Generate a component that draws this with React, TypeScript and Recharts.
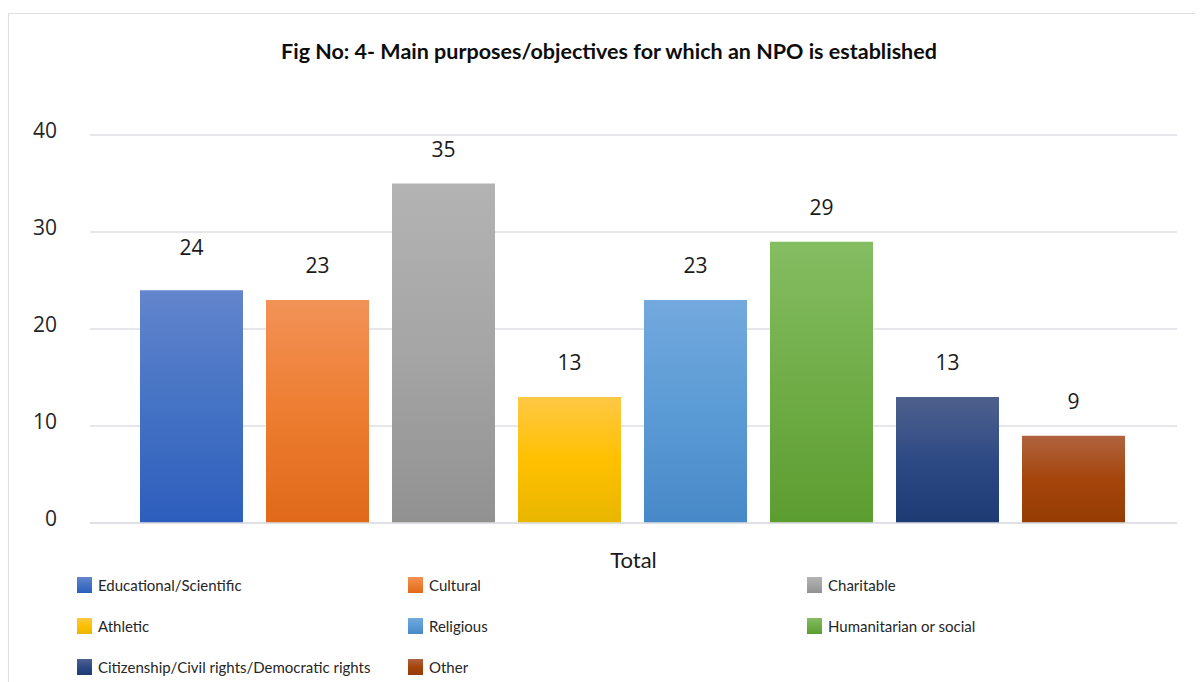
import { BarChart, Bar, XAxis, YAxis, CartesianGrid, LabelList } from 'recharts';

const categories = ['Total'];
const seriesNames = [
  'Educational/Scientific',
  'Cultural',
  'Charitable',
  'Athletic',
  'Religious',
  'Humanitarian or social',
  'Citizenship/Civil rights/Democratic rights',
  'Other',
];
const seriesValues = [24, 23, 35, 13, 23, 29, 13, 9];
const yTicks = [0, 10, 20, 30, 40];

// top, middle, bottom of each bar gradient
const seriesColors = [
  ['#6385cd', '#4472c4', '#2d5ebd'],
  ['#f29257', '#ed7d31', '#e0691a'],
  ['#b3b3b3', '#a5a5a5', '#919191'],
  ['#ffc845', '#ffc000', '#e8b600'],
  ['#73a9de', '#5b9bd5', '#4788c8'],
  ['#85bd63', '#70ad47', '#5c9d30'],
  ['#4e618d', '#2e4a85', '#1d3a73'],
  ['#b0633f', '#a5450c', '#953c03'],
];

const data = categories.map((name) => {
  const row: Record<string, string | number> = { name };
  seriesNames.forEach((s, i) => {
    row[s] = seriesValues[i];
  });
  return row;
});

const labelFont = "'Open Sans', 'Noto Sans', sans-serif";
const textFont = "Lato, 'Noto Sans', sans-serif";

function LegendGrid() {
  return (
    <div
      style={{
        position: 'absolute',
        left: 69,
        top: 569,
        display: 'grid',
        gridTemplateColumns: '331px 399px 300px',
        rowGap: 25,
        fontFamily: textFont,
        fontSize: 15,
        color: '#262626',
      }}
    >
      {seriesNames.map((s, i) => (
        <div key={s} style={{ display: 'flex', alignItems: 'center', height: 16 }}>
          <span
            style={{
              display: 'inline-block',
              width: 15,
              height: 16,
              marginRight: 6,
              background: `linear-gradient(${seriesColors[i][0]}, ${seriesColors[i][1]}, ${seriesColors[i][2]})`,
            }}
          />
          <span>{s}</span>
        </div>
      ))}
    </div>
  );
}

export default function App() {
  return (
    <div style={{ position: 'relative', width: 1195, height: 674, overflow: 'hidden', background: '#fff' }}>
      <div
        style={{
          position: 'absolute',
          left: 0,
          top: 5,
          width: 1300,
          height: 800,
          borderTop: '1.5px solid #dcdfe4',
          borderLeft: '1.5px solid #dcdfe4',
        }}
      />
      <div
        style={{
          position: 'absolute',
          left: 0,
          width: 1202,
          top: 30,
          textAlign: 'center',
          fontFamily: textFont,
          fontWeight: 700,
          fontSize: 21.5,
          color: '#0d0d0d',
        }}
      >
        Fig No: 4- Main purposes/objectives for which an NPO is established
      </div>
      <div style={{ position: 'absolute', left: 0, top: 0 }}>
        <BarChart
          width={1195}
          height={674}
          data={data}
          margin={{ top: 127, right: 26, bottom: 119, left: 20 }}
          barCategoryGap={50}
          barGap={23}
        >
          <defs>
            {seriesColors.map((c, i) => (
              <linearGradient key={i} id={`grad-${i}`} x1="0" y1="0" x2="0" y2="1">
                <stop offset="0%" stopColor={c[0]} />
                <stop offset="50%" stopColor={c[1]} />
                <stop offset="100%" stopColor={c[2]} />
              </linearGradient>
            ))}
          </defs>
          <CartesianGrid vertical={false} stroke="#dcdfe4" strokeWidth={1.5} />
          <XAxis
            dataKey="name"
            height={40}
            axisLine={{ stroke: '#dcdfe4', strokeWidth: 1.5 }}
            tickLine={false}
            tickSize={0}
            tickMargin={29}
            tick={{ fill: '#1a1a1a', fontSize: 22, fontFamily: textFont }}
          />
          <YAxis
            width={62}
            domain={[0, 40]}
            ticks={yTicks}
            axisLine={false}
            tickLine={false}
            tickSize={0}
            tickMargin={33}
            tick={{ fill: '#262626', fontSize: 21, fontFamily: labelFont, dy: -4 }}
          />
          {seriesNames.map((s, i) => (
            <Bar key={s} dataKey={s} fill={`url(#grad-${i})`} isAnimationActive={false}>
              <LabelList
                dataKey={s}
                position="top"
                offset={i === 0 ? 35 : 27}
                fill="#1a1a1a"
                fontSize={21}
                fontFamily={labelFont}
              />
            </Bar>
          ))}
        </BarChart>
      </div>
      <LegendGrid />
    </div>
  );
}
